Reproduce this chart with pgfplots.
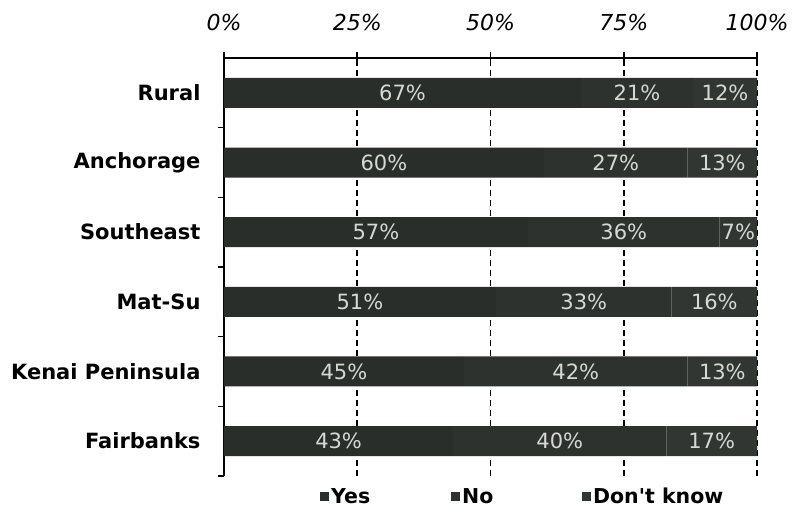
\documentclass[border=0pt]{standalone}
\usepackage{pgfplots}
\pgfplotsset{compat=1.18}
\usepackage{pgfplotstable}
\usepackage{fontspec}
\setmainfont{DejaVu Sans}
\newfontfamily\plainfont{DejaVu Sans}
\definecolor{cyes}{HTML}{2A2E2A}
\definecolor{cno}{HTML}{2E322E}
\definecolor{cdk}{HTML}{323632}
\definecolor{lbl}{HTML}{D6D8D4}
\pgfplotsset{sqlegend/.style={legend image code/.code={\fill[##1] (0pt,-4.5pt) rectangle (9pt,4.5pt);}}}

% y: 0 = Fairbanks ... 5 = Rural
\pgfplotstableread{
y yes no dk
0 43 40 17
1 45 42 13
2 51 33 16
3 57 36 7
4 60 27 13
5 67 21 12
}\data

% label positions: centre of each segment
\pgfplotstableread{
x y v
21.5 0 43
63 0 40
91.5 0 17
22.5 1 45
66 1 42
93.5 1 13
25.5 2 51
67.5 2 33
92 2 16
28.5 3 57
75 3 36
96.5 3 7
30 4 60
73.5 4 27
93.5 4 13
33.5 5 67
77.5 5 21
94 5 12
}\labels

\begin{document}
\begin{tikzpicture}
\begin{axis}[
  at={(0,0)}, anchor=south west,
  scale only axis, width=533pt, height=418pt,
  xmin=0, xmax=100, ymin=-0.5, ymax=5.5,
  clip=false,
  xbar stacked, bar width=30pt,
  axis x line*=top, axis y line*=left,
  axis line style={line width=1.6pt, black},
  x axis line style={line width=1.6pt, black},
  xtick={0,25,50,75,100},
  xticklabels={0\%,25\%,50\%,75\%,100\%},
  xtick align=center, major tick length=12pt,
  x tick style={line width=1.6pt, black},
  xticklabel style={font=\fontsize{22}{26}\selectfont\itshape, yshift=18pt},
  xmajorgrids,
  major x grid style={black, line width=1.6pt, dash pattern=on 6pt off 4pt},
  ytick={0,1,2,3,4,5},
  yticklabels={Fairbanks, Kenai Peninsula, Mat-Su, Southeast, Anchorage, Rural},
  yticklabel style={font=\bfseries\fontsize{21}{25}\selectfont, xshift=-8pt},
  major y tick style={draw=none},
  minor ytick={-0.5,0.5,1.5,2.5,3.5,4.5},
  ytick align=outside,
  minor tick length=6pt,
  minor y tick style={line width=1.6pt, black},
  legend columns=3,
  legend style={at={(0.18,-0.05)}, anchor=west, draw=none, fill=none,
    inner sep=0pt, font=\bfseries\fontsize{20.5}{24}\selectfont,
    /tikz/every even column/.append style={column sep=18pt}},
]
\addplot[fill=cyes, draw=none, sqlegend] table[x=yes, y=y]{\data};
\addlegendentry{\makebox[100pt][l]{Yes}}
\addplot[fill=cno, draw=none, sqlegend] table[x=no, y=y]{\data};
\addlegendentry{\makebox[100pt][l]{No}}
\addplot[fill=cdk, draw=none, sqlegend] table[x=dk, y=y]{\data};
\addlegendentry{Don{\plainfont'}t know}
% top axis line and its ticks
\draw[line width=1.8pt, black] (rel axis cs:0,1) -- (rel axis cs:1,1);
\pgfplotsinvokeforeach{0,0.25,0.5,0.75,1}{
  \draw[line width=1.6pt, black] ([yshift=-6pt]rel axis cs:#1,1) -- ([yshift=6pt]rel axis cs:#1,1);
}
\end{axis}
\begin{axis}[
  at={(0,0)}, anchor=south west,
  scale only axis, width=533pt, height=418pt,
  xmin=0, xmax=100, ymin=-0.5, ymax=5.5,
  hide axis,
  /pgf/number format/assume math mode=true,
]
\addplot[only marks, mark=none, point meta=explicit,
  nodes near coords={\pgfmathprintnumber{\pgfplotspointmeta}\%},
  nodes near coords style={anchor=center, text=lbl, font=\fontsize{21}{25}\selectfont}]
  table[x=x, y=y, meta=v]{\labels};
\end{axis}
\draw[line width=1.8pt, black] (0pt,418pt) -- (533pt,418pt);
\useasboundingbox (-224pt,-38pt) rectangle (569pt,476pt);
\end{tikzpicture}
\end{document}
